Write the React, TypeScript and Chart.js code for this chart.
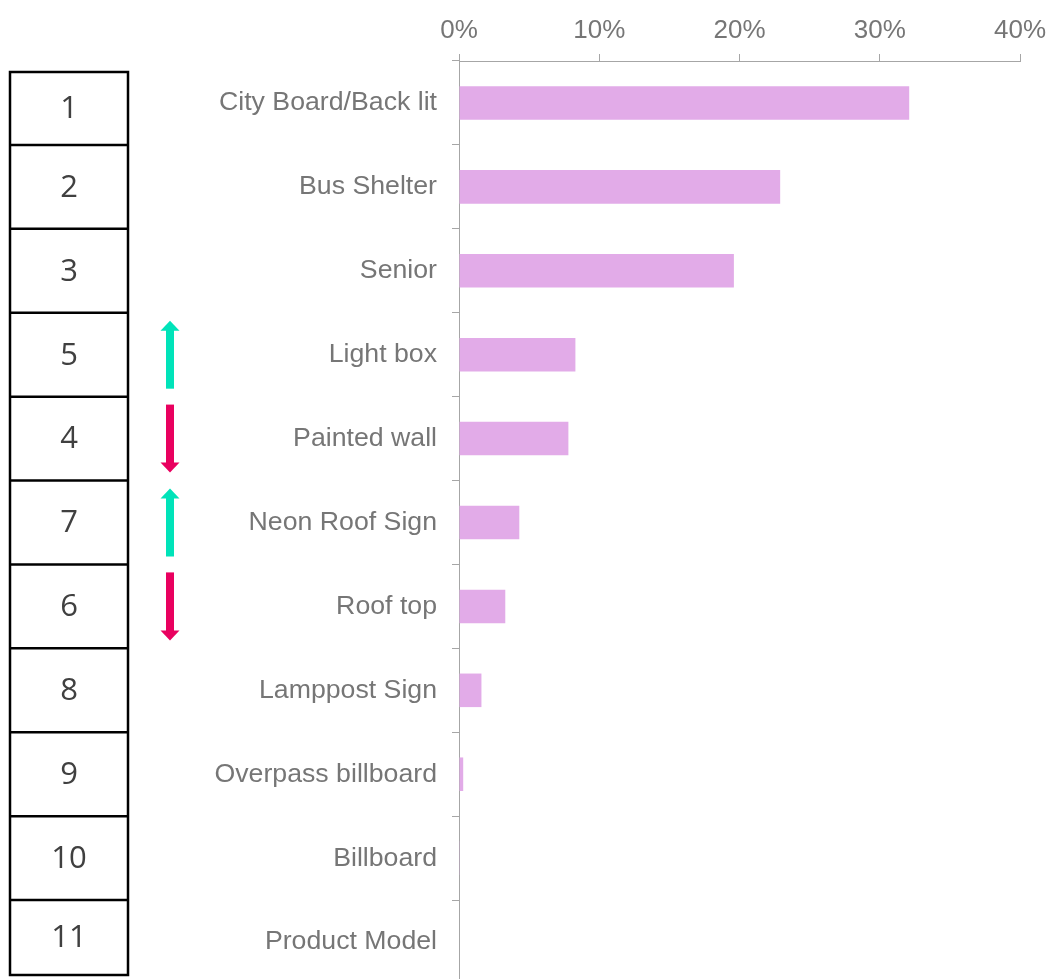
import React, { useEffect, useRef } from "react";
import { Chart, registerables } from "chart.js";

Chart.register(...registerables);

const categories = [
  "City Board/Back lit",
  "Bus Shelter",
  "Senior",
  "Light box",
  "Painted wall",
  "Neon Roof Sign",
  "Roof top",
  "Lamppost Sign",
  "Overpass billboard",
  "Billboard",
  "Product Model",
];
const shares = [32.1, 22.9, 19.6, 8.3, 7.8, 4.3, 3.3, 1.6, 0.3, 0.05, 0];
const ranks = [1, 2, 3, 5, 4, 7, 6, 8, 9, 10, 11];
// 1 = moved up, -1 = moved down, 0 = unchanged
const trends = [0, 0, 0, 1, -1, 1, -1, 0, 0, 0, 0];
const xTickValues = [0, 10, 20, 30, 40];

const BAR_COLOR = "#E2ABE8";
const AXIS_COLOR = "#A6A6A6";
const LABEL_COLOR = "#767676";
const UP_COLOR = "#00E3B9";
const DOWN_COLOR = "#E9005F";
const FONT_FAMILY = '"Liberation Sans", Arial, sans-serif';
const VISIBLE_HEIGHT = 979;
const CANVAS_HEIGHT = 984;

function drawArrow(ctx: CanvasRenderingContext2D, x: number, yc: number, dir: number, color: string) {
  const len = 68;
  const shaft = 8;
  const headW = 19;
  const headH = 10;
  ctx.save();
  ctx.fillStyle = color;
  if (dir > 0) {
    const tip = yc - len / 2;
    const tail = yc + len / 2;
    ctx.fillRect(x - shaft / 2, tip + headH - 1, shaft, tail - tip - headH + 1);
    ctx.beginPath();
    ctx.moveTo(x, tip);
    ctx.lineTo(x + headW / 2, tip + headH);
    ctx.lineTo(x - headW / 2, tip + headH);
    ctx.closePath();
    ctx.fill();
  } else {
    const tip = yc + len / 2;
    const tail = yc - len / 2;
    ctx.fillRect(x - shaft / 2, tail, shaft, tip - tail - headH + 1);
    ctx.beginPath();
    ctx.moveTo(x, tip);
    ctx.lineTo(x + headW / 2, tip - headH);
    ctx.lineTo(x - headW / 2, tip - headH);
    ctx.closePath();
    ctx.fill();
  }
  ctx.restore();
}

const rankColumnPlugin = {
  id: "rankColumn",
  afterDraw(chart: any) {
    const ctx: CanvasRenderingContext2D = chart.ctx;
    const yScale = chart.scales.y;
    const area = chart.chartArea;
    const boxLeft = 10;
    const boxRight = 128;
    const n = categories.length;
    const centers = categories.map((_, i) => yScale.getPixelForValue(i));
    const edges: number[] = [area.top + 11];
    for (let i = 0; i < n - 1; i++) edges.push((centers[i] + centers[i + 1]) / 2);
    edges.push(Math.min(area.bottom, VISIBLE_HEIGHT) - 4);

    ctx.save();
    ctx.strokeStyle = "#000000";
    ctx.lineWidth = 2.5;
    ctx.strokeRect(boxLeft, edges[0], boxRight - boxLeft, edges[n] - edges[0]);
    for (let i = 1; i < n; i++) {
      ctx.beginPath();
      ctx.moveTo(boxLeft, edges[i]);
      ctx.lineTo(boxRight, edges[i]);
      ctx.stroke();
    }
    ctx.fillStyle = "#404040";
    ctx.font = '31px "Open Sans", "Noto Sans", sans-serif';
    ctx.textAlign = "center";
    ctx.textBaseline = "middle";
    for (let i = 0; i < n; i++) {
      const cy = (edges[i] + edges[i + 1]) / 2;
      ctx.fillText(String(ranks[i]), (boxLeft + boxRight) / 2, cy + 1);
      if (trends[i] !== 0) {
        drawArrow(ctx, 170, centers[i], trends[i], trends[i] > 0 ? UP_COLOR : DOWN_COLOR);
      }
    }
    ctx.restore();
  },
};

export default function App() {
  const canvasRef = useRef<HTMLCanvasElement | null>(null);

  useEffect(() => {
    if (!canvasRef.current) return;
    const chart = new Chart(canvasRef.current, {
      type: "bar",
      data: {
        labels: categories,
        datasets: [
          {
            data: shares,
            backgroundColor: BAR_COLOR,
            borderWidth: 0,
            barPercentage: 0.4,
            categoryPercentage: 1,
          },
        ],
      },
      options: {
        indexAxis: "y",
        animation: false,
        responsive: false,
        layout: { padding: { top: 15, right: 29, bottom: 0, left: 0 } },
        plugins: {
          legend: { display: false },
          tooltip: { enabled: false },
        },
        scales: {
          x: {
            position: "top",
            min: 0,
            max: 40,
            afterBuildTicks: (scale: any) => {
              scale.ticks = xTickValues.map((v) => ({ value: v }));
            },
            afterFit: (scale: any) => {
              scale.height = 46;
              scale.paddingLeft = 0;
              scale.paddingRight = 0;
            },
            ticks: {
              color: LABEL_COLOR,
              font: { family: FONT_FAMILY, size: 26 },
              padding: 8,
              maxRotation: 0,
              callback: (v: any) => `${v}%`,
            },
            grid: {
              drawOnChartArea: false,
              drawTicks: true,
              tickLength: 7,
              color: AXIS_COLOR,
            },
            border: { display: true, color: AXIS_COLOR, width: 1 },
          },
          y: {
            afterFit: (scale: any) => {
              scale.width = 459;
              scale.paddingTop = 0;
              scale.paddingBottom = 0;
            },
            ticks: {
              color: LABEL_COLOR,
              font: { family: FONT_FAMILY, size: 26.7 },
              padding: 15,
            },
            grid: {
              drawOnChartArea: false,
              drawTicks: true,
              tickLength: 7,
              color: AXIS_COLOR,
            },
            border: { display: true, color: AXIS_COLOR, width: 1 },
          },
        },
      },
      plugins: [rankColumnPlugin],
    } as any);
    return () => chart.destroy();
  }, []);

  return (
    <div
      style={{
        position: "absolute",
        left: 0,
        top: 0,
        width: 1049,
        height: VISIBLE_HEIGHT,
        overflow: "hidden",
        background: "#ffffff",
      }}
    >
      <canvas ref={canvasRef} width={1049} height={CANVAS_HEIGHT} style={{ display: "block" }} />
    </div>
  );
}
